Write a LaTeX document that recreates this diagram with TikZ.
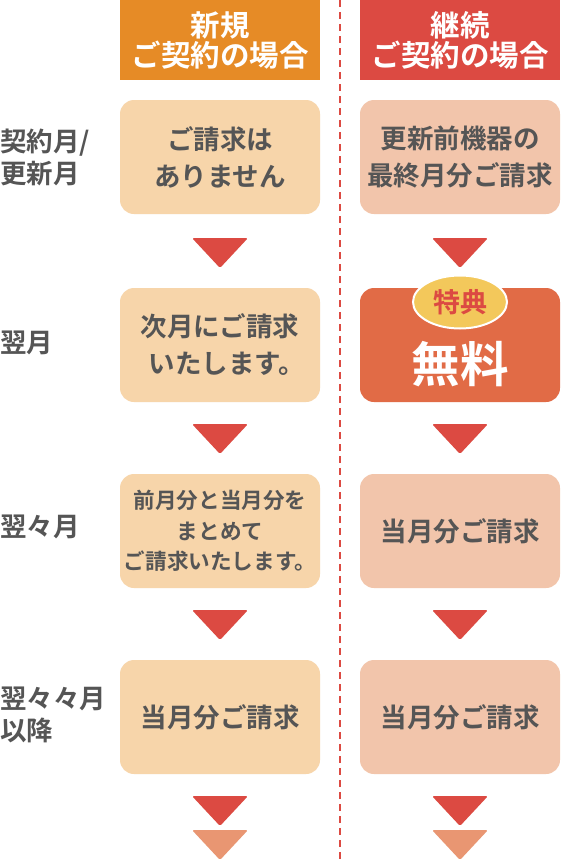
\documentclass[tikz,border=0pt]{standalone}
\usepackage{fontspec}
\setmainfont{Noto Sans CJK JP}[BoldFont={Noto Sans CJK JP Bold}]
\usetikzlibrary{calc,shapes.geometric}
\definecolor{hdorange}{HTML}{E68B26}
\definecolor{hdred}{HTML}{DC4A42}
\definecolor{boxl}{HTML}{F7D5AA}
\definecolor{boxr}{HTML}{F2C5AB}
\definecolor{freebox}{HTML}{E16B46}
\definecolor{badge}{HTML}{F3C85B}
\definecolor{txt}{HTML}{555555}
\definecolor{arrred}{HTML}{DC4A42}
\definecolor{arrsalmon}{HTML}{E99672}
\begin{document}
\begin{tikzpicture}[x=1pt,y=-1pt,
  header/.style={minimum width=200pt,minimum height=80pt,inner sep=0pt,text=white,font=\bfseries\fontsize{29.5}{30}\selectfont,align=center},
  card/.style={rounded corners=14pt,minimum width=200pt,minimum height=114pt,inner sep=0pt,text=txt,font=\bfseries\fontsize{26.5}{37}\selectfont,align=center},
  lcard/.style={card,fill=boxl},
  rcard/.style={card,fill=boxr},
  rowlabel/.style={anchor=west,inner sep=0pt,text=txt,font=\bfseries\fontsize{26.5}{32}\selectfont,align=left},
  tri/.style={rounded corners=1.5pt}
]
\useasboundingbox (0,0) rectangle (560,860);
\fill[white] (0,0) rectangle (560,860);

% dashed separator
\coordinate (dtop) at (340,0);
\coordinate (dbot) at (340,860);
\draw[arrred,line width=2pt,dash pattern=on 7pt off 5pt] (dtop) -- (dbot);

% headers
\node[header,fill=hdorange] (hl) at (220,40) {新規\\ご契約の場合};
\node[header,fill=hdred] (hr) at (460,40) {継続\\ご契約の場合};

% row labels
\node[rowlabel] (r1) at (0,157) {契約月/\\更新月};
\node[rowlabel] (r2) at (0,343) {翌月};
\node[rowlabel] (r3) at (0,527) {翌々月};
\node[rowlabel] (r4) at (0,715) {翌々々月\\以降};

% left column
\node[lcard] (l1) at (220,157) {ご請求は\\ありません};
\node[lcard] (l2) at (220,345) {次月にご請求\\\hspace*{14pt}いたします。};
\node[lcard,font=\bfseries\fontsize{21.6}{30.5}\selectfont] (l3) at (220,531) {前月分と当月分を\\まとめて\\ご請求いたします。};
\node[lcard] (l4) at (220,717) {当月分ご請求};

% right column
\node[card,fill=boxr] (q1) at (460,157) {更新前機器の\\最終月分ご請求};
\node[card,fill=freebox] (q2) at (460,345) {};
\node[text=white,font=\bfseries\fontsize{48.5}{50}\selectfont,inner sep=0pt] (q2t) at (460,364) {無料};
\node[ellipse,fill=badge,draw=white,line width=2pt,minimum width=94pt,minimum height=53pt,inner sep=0pt,text=hdred,font=\bfseries\fontsize{27}{28}\selectfont] (badge) at (460,302) {特典};
\node[rcard] (q3) at (460,531) {当月分ご請求};
\node[rcard] (q4) at (460,717) {当月分ご請求};

% down triangles
\newcommand\downtri[2]{\fill[tri,#2] ($#1+(-28,-15)$) -- ($#1+(28,-15)$) -- ($#1+(0,15)$) -- cycle;}
\coordinate (la) at ($(l1.south)!0.5!(l2.north)+(0,2)$);
\coordinate (lb) at ($(l2.south)!0.5!(l3.north)+(0,1)$);
\coordinate (lc) at ($(l3.south)!0.5!(l4.north)+(0,1)$);
\coordinate (ra) at ($(q1.south)!0.5!(q2.north)+(0,2)$);
\coordinate (rb) at ($(q2.south)!0.5!(q3.north)+(0,1)$);
\coordinate (rc) at ($(q3.south)!0.5!(q4.north)+(0,1)$);
\coordinate (ld1) at (220,811);
\coordinate (ld2) at (220,845);
\coordinate (rd1) at (460,811);
\coordinate (rd2) at (460,845);
\downtri{(la)}{arrred}
\downtri{(lb)}{arrred}
\downtri{(lc)}{arrred}
\downtri{(ra)}{arrred}
\downtri{(rb)}{arrred}
\downtri{(rc)}{arrred}
\downtri{(ld1)}{arrred}
\downtri{(ld2)}{arrsalmon}
\downtri{(rd1)}{arrred}
\downtri{(rd2)}{arrsalmon}
\end{tikzpicture}
\end{document}
